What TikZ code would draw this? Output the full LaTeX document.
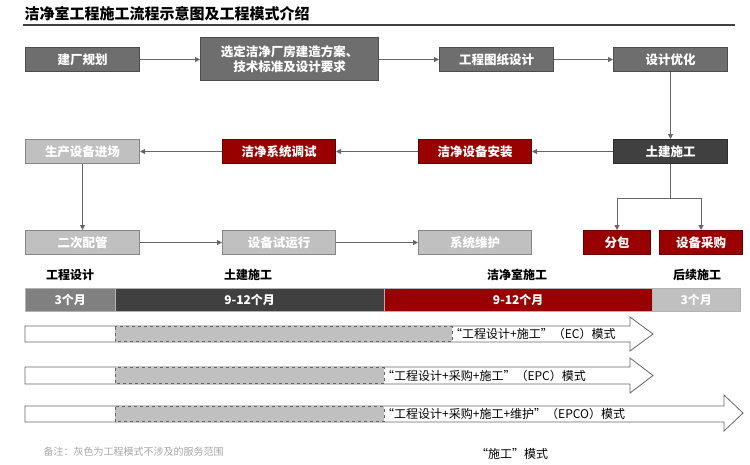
\documentclass[tikz,border=0pt]{standalone}
\usepackage{fontspec}
\setmainfont{Noto Sans CJK SC}
\usetikzlibrary{arrows.meta,shapes.arrows}
\definecolor{dg}{HTML}{6E6E6E}
\definecolor{xg}{HTML}{404040}
\definecolor{lg}{HTML}{C0C0C0}
\definecolor{rd}{HTML}{990000}
\tikzset{
 bx/.style={draw=#1!70!black,line width=1pt,fill=#1,text=white,font=\bfseries\fontsize{12.5}{15}\selectfont,inner sep=0pt,anchor=north west},
 ar/.style={draw=gray!80!black,line width=1pt,-{Triangle[length=5pt,width=5pt]}},
 ph/.style={font=\bfseries\fontsize{12}{14}\selectfont},
 seg/.style={draw=gray!60,fill=#1,text=white,font=\bfseries\fontsize{12}{14}\selectfont,inner sep=0pt,anchor=north west},
 big/.style={draw=gray!80!black,fill=white,line width=0.8pt},
 lbl/.style={font=\fontsize{12}{14}\selectfont,anchor=west,inner sep=1pt}
}
\begin{document}
\begin{tikzpicture}[x=1pt,y=-1pt]
\useasboundingbox (0,0) rectangle (750,464);
\node[anchor=west,font=\bfseries\fontsize{15}{17}\selectfont] (title) at (21,14) {洁净室工程施工流程示意图及工程模式介绍};
\draw[line width=1.5pt,xg] (23,25) -- (735,25);
% row 1
\node[bx=dg,minimum width=114pt,minimum height=24pt] (a1) at (25,47) {建厂规划};
\node[bx=dg,minimum width=178pt,minimum height=43pt,align=center] (a2) at (200,37) {选定洁净厂房建造方案、\\技术标准及设计要求};
\node[bx=dg,minimum width=114pt,minimum height=24pt] (a3) at (439,47) {工程图纸设计};
\node[bx=dg,minimum width=114pt,minimum height=24pt] (a4) at (613,47) {设计优化};
% row 2
\node[bx=lg,minimum width=114pt,minimum height=24pt] (b1) at (25,139) {生产设备进场};
\node[bx=rd,minimum width=113pt,minimum height=24pt] (b2) at (222,139) {洁净系统调试};
\node[bx=rd,minimum width=113pt,minimum height=24pt] (b3) at (418,139) {洁净设备安装};
\node[bx=xg,minimum width=114pt,minimum height=24pt] (b4) at (613,139) {土建施工};
% row 3
\node[bx=lg,minimum width=114pt,minimum height=24pt] (c1) at (25,230) {二次配管};
\node[bx=lg,minimum width=113pt,minimum height=24pt] (c2) at (222,230) {设备试运行};
\node[bx=lg,minimum width=113pt,minimum height=24pt] (c3) at (418,230) {系统维护};
\node[bx=rd,minimum width=67pt,minimum height=24pt] (c4) at (583,230) {分包};
\node[bx=rd,minimum width=83pt,minimum height=24pt] (c5) at (659,230) {设备采购};
\draw[ar] (a1) -- (a1 -| a2.west);
\draw[ar] (a2.east |- a3) -- (a3);
\draw[ar] (a3) -- (a4);
\draw[ar] (a4) -- (b4);
\draw[ar] (b4) -- (b3);
\draw[ar] (b3) -- (b2);
\draw[ar] (b2) -- (b1);
\draw[ar] (b1) -- (c1);
\draw[ar] (c1) -- (c2);
\draw[ar] (c2) -- (c3);
\draw[gray!80!black,line width=1pt] (b4.south) -- ++(0,34) coordinate (k);
\draw[ar] (k) -| (c4.north);
\draw[ar] (k) -| (c5.north);
% phases
\node[ph] (p1) at (70,275) {工程设计};
\node[ph] (p2) at (248,275) {土建施工};
\node[ph] (p3) at (517,275) {洁净室施工};
\node[ph] (p4) at (697,275) {后续施工};
\node[seg=gray,minimum width=90pt,minimum height=23pt] (s1) at (25,288) {3个月};
\node[seg=xg,minimum width=269pt,minimum height=23pt] (s2) at (115,288) {9-12个月};
\node[seg=rd,minimum width=268pt,minimum height=23pt] (s3) at (384,288) {9-12个月};
\node[seg=lg,minimum width=88pt,minimum height=23pt] (s4) at (652,288) {3个月};
% arrows
\draw[big] (25,326) -- (630,326) -- (630,317) -- (653,334) -- (630,351) -- (630,342) -- (25,342) -- cycle;
\draw[big] (25,367) -- (630,367) -- (630,358) -- (653,375.5) -- (630,393) -- (630,384) -- (25,384) -- cycle;
\draw[big] (25,406) -- (724,406) -- (724,395) -- (743,413) -- (724,431) -- (724,422) -- (25,422) -- cycle;
\draw[fill=lg,dashed,draw=gray!80!black] (115,326.5) rectangle (452,341.5);
\draw[fill=lg,dashed,draw=gray!80!black] (115,367.5) rectangle (384,383.5);
\draw[fill=lg,dashed,draw=gray!80!black] (115,406.5) rectangle (384,421.5);
\node[lbl] (t1) at (449,334) {“工程设计+施工”（EC）模式};
\node[lbl] (t2) at (381,375.5) {“工程设计+采购+施工”（EPC）模式};
\node[lbl] (t3) at (381,414) {“工程设计+采购+施工+维护”（EPCO）模式};
\node[anchor=west,text=gray!70,font=\fontsize{10}{12}\selectfont] (note) at (40,452) {备注：灰色为工程模式不涉及的服务范围};
\node[font=\fontsize{12}{14}\selectfont] (sg) at (512,454) {“施工”模式};
\end{tikzpicture}
\end{document}
